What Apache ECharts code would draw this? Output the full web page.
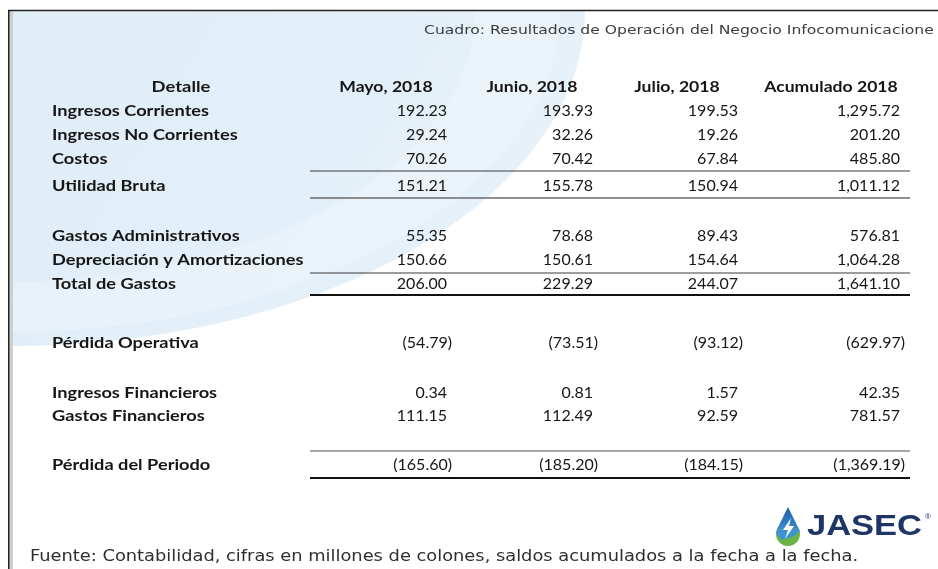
<!DOCTYPE html>
<html><head><meta charset="utf-8">
<script src="https://cdn.jsdelivr.net/npm/echarts@6/dist/echarts.min.js"></script>
<style>html,body{margin:0;padding:0;background:#fff}#c{width:938px;height:569px}</style>
</head><body><div id="c"></div>
<script>
// ---------- data ----------
const titleText = 'Cuadro: Resultados de Operación del Negocio Infocomunicacione';
const footnote = 'Fuente: Contabilidad, cifras en millones de colones, saldos acumulados a la fecha a la fecha.';
const headers = ['Detalle', 'Mayo, 2018', 'Junio, 2018', 'Julio, 2018', 'Acumulado 2018'];
const rowLabels = ['Ingresos Corrientes', 'Ingresos No Corrientes', 'Costos', 'Utilidad Bruta',
  'Gastos Administrativos', 'Depreciación y Amortizaciones', 'Total de Gastos',
  'Pérdida Operativa', 'Ingresos Financieros', 'Gastos Financieros', 'Pérdida del Periodo'];
const mayo      = [192.23, 29.24, 70.26, 151.21, 55.35, 150.66, 206.00, -54.79, 0.34, 111.15, -165.60];
const junio     = [193.93, 32.26, 70.42, 155.78, 78.68, 150.61, 229.29, -73.51, 0.81, 112.49, -185.20];
const julio     = [199.53, 19.26, 67.84, 150.94, 89.43, 154.64, 244.07, -93.12, 1.57, 92.59, -184.15];
const acumulado = [1295.72, 201.20, 485.80, 1011.12, 576.81, 1064.28, 1641.10, -629.97, 42.35, 781.57, -1369.19];
const logoText = 'JASEC';

// ---------- layout ----------
const columns = [mayo, junio, julio, acumulado];
const rowY = [111, 135, 159, 186, 236, 260, 284, 343, 393, 416, 465];
const headerY = 87;
const labelX = 52;
const labelHeaderCX = 181;
const colRight = [447, 593, 738, 900];
const colHeaderCX = [386, 532, 677, 831];
const rules = [
  {y: 171, w: 1, c: '#3a3a3a'}, {y: 198, w: 1.5, c: '#6a6a6a'},
  {y: 273, w: 1, c: '#3a3a3a'}, {y: 295, w: 2.2, c: '#111'},
  {y: 451, w: 1.2, c: '#555'}, {y: 478, w: 2.2, c: '#111'}
];
const ruleX1 = 310, ruleX2 = 910;
const tableFont = 'Lato, "Open Sans", sans-serif';
const textColor = '#161616';

function fmt(v) {
  const s = Math.abs(v).toLocaleString('en-US', {minimumFractionDigits: 2, maximumFractionDigits: 2});
  return v < 0 ? '(' + s + ')' : s;
}

function ellipsePts(cx, cy, rx, ry, n) {
  const p = [];
  for (let i = 0; i <= n; i++) {
    const a = (Math.PI / 2) * i / n;
    p.push([cx + rx * Math.cos(a), cy + ry * Math.sin(a)]);
  }
  return p;
}

const g = [];
// background
g.push({type: 'rect', shape: {x: 0, y: 0, width: 938, height: 569}, style: {fill: '#ffffff'}, z: 0});
const outer = ellipsePts(10, 10, 575, 336, 80);
g.push({type: 'polygon', shape: {points: [[10, 10]].concat(outer)},
  style: {fill: new echarts.graphic.LinearGradient(0, 0, 1, 1, [
    {offset: 0, color: '#dfedf7'}, {offset: 1, color: '#e8f2fa'}])}, z: 1});
// lighter crescent streak inside
const o2 = ellipsePts(10, 10, 550, 322, 80);
const i2 = ellipsePts(10, 10, 465, 272, 80).reverse();
g.push({type: 'polygon', shape: {points: o2.concat(i2)},
  style: {fill: 'rgba(255,255,255,0.22)'}, z: 2});
// frame
g.push({type: 'rect', shape: {x: 10, y: 11, width: 3, height: 560}, style: {fill: '#cfcfcf'}, z: 3});
g.push({type: 'line', shape: {x1: 8, y1: 10.5, x2: 938, y2: 10.5}, style: {stroke: '#222', lineWidth: 1.5}, z: 4});
g.push({type: 'line', shape: {x1: 8.8, y1: 10, x2: 8.8, y2: 569}, style: {stroke: '#222', lineWidth: 1.6}, z: 4});

// title
g.push({type: 'text', x: 424, y: 31, scaleX: 1.2, z: 5,
  style: {text: titleText, font: '13px "DejaVu Sans", sans-serif', fill: '#3c3c3c', verticalAlign: 'middle'}});

// headers
g.push({type: 'text', x: labelHeaderCX, y: headerY, scaleX: 1.15, z: 5,
  style: {text: headers[0], font: 'bold 16px ' + tableFont, fill: textColor, align: 'center', verticalAlign: 'middle'}});
colHeaderCX.forEach((cx, i) => {
  g.push({type: 'text', x: cx, y: headerY, scaleX: 1.1, z: 5,
    style: {text: headers[i + 1], font: 'bold 16px ' + tableFont, fill: textColor, align: 'center', verticalAlign: 'middle'}});
});

// rows
rowLabels.forEach((lab, r) => {
  g.push({type: 'text', x: labelX, y: rowY[r], scaleX: 1.138, z: 5,
    style: {text: lab, font: 'bold 16px ' + tableFont, fill: textColor, verticalAlign: 'middle'}});
  columns.forEach((col, c) => {
    const v = col[r];
    g.push({type: 'text', x: colRight[c] + (v < 0 ? 5 : 0), y: rowY[r], z: 5,
      style: {text: fmt(v), font: '16px ' + tableFont, fill: textColor, align: 'right', verticalAlign: 'middle'}});
  });
});

// rules
rules.forEach(rl => {
  g.push({type: 'line', shape: {x1: ruleX1, y1: rl.y, x2: ruleX2, y2: rl.y}, style: {stroke: rl.c, lineWidth: rl.w}, z: 5});
});

// footnote
g.push({type: 'text', x: 30, y: 557, scaleX: 1.114, z: 5,
  style: {text: footnote, font: '16px "DejaVu Sans", sans-serif', fill: '#2e2e2e', verticalAlign: 'middle'}});

// logo
const lcx = 788, lcy = 534, lr = 12;
g.push({type: 'circle', shape: {cx: lcx, cy: lcy, r: lr}, style: {fill: '#6cb544'}, z: 6});
g.push({type: 'polygon', shape: {points: [[lcx, 507], [lcx + 10.75, 528.7], [lcx - 10.75, 528.7]]},
  style: {fill: new echarts.graphic.LinearGradient(0, 507, 0, 534, [
    {offset: 0, color: '#1f5fa8'}, {offset: 1, color: '#3f93d4'}], true)}, z: 6});
g.push({type: 'polygon', shape: {points: [[lcx - 12, 533], [lcx - 10.75, 528.7], [lcx + 10.75, 528.7], [lcx + 12, 531], [lcx + 4, 537], [lcx - 6, 540]]},
  style: {fill: '#3f93d4'}, z: 6});
g.push({type: 'polygon', shape: {points: [[lcx + 3, 518], [lcx - 5, 530], [lcx, 530], [lcx - 3, 539], [lcx + 6, 526], [lcx + 1, 526]]},
  style: {fill: '#ffffff'}, z: 7});
g.push({type: 'text', x: 807, y: 527, scaleX: 1.15, z: 6,
  style: {text: logoText, font: 'bold 30px "Liberation Sans", Arial, sans-serif', fill: '#1d3667', verticalAlign: 'middle'}});
g.push({type: 'text', x: 925, y: 517, z: 6,
  style: {text: '®', font: '8px "Liberation Sans", sans-serif', fill: '#1d3667', verticalAlign: 'middle'}});

const chart = echarts.init(document.getElementById('c'), null, {renderer: 'canvas'});
chart.setOption({animation: false, graphic: g});
</script>
</body></html>
